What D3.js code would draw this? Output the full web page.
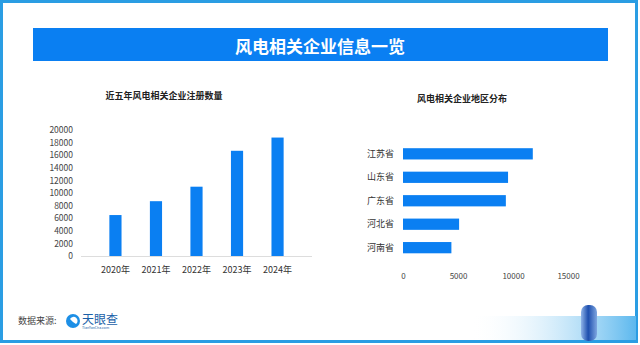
<!DOCTYPE html>
<html>
<head>
<meta charset="utf-8">
<script src="https://cdn.jsdelivr.net/npm/d3@7"></script>
<style>
  body { margin: 0; background: #fff; }
  text { font-family: "Noto Sans CJK SC", "Noto Sans", sans-serif; }
</style>
</head>
<body>
<div id="chart"></div>
<script>
// 近五年风电相关企业注册数量
const years = ['2020年', '2021年', '2022年', '2023年', '2024年']
const regCounts = [6500, 8700, 11000, 16700, 18800]
const yTicks = [0, 2000, 4000, 6000, 8000, 10000, 12000, 14000, 16000, 18000, 20000]

// 风电相关企业地区分布
const provinces = ['江苏省', '山东省', '广东省', '河北省', '河南省']
const provCounts = [11800, 9550, 9350, 5100, 4400]
const xTicks = [0, 5000, 10000, 15000]

const width = 640
const height = 345
const blue = '#0a7ff2'

const svg = d3.select('#chart')
  .append('svg')
  .attr('width', width)
  .attr('height', height)

const defs = svg.append('defs')

// outer frame
svg.append('rect')
  .attr('x', 1.5).attr('y', 1.5)
  .attr('width', 635).attr('height', 340)
  .attr('fill', '#fff')
  .attr('stroke', '#2a9de3')
  .attr('stroke-width', 3)

// decoration bottom right
const grad = defs.append('linearGradient')
  .attr('id', 'g1').attr('x1', 0).attr('x2', 1).attr('y1', 0).attr('y2', 0)
grad.append('stop').attr('offset', '0%').attr('stop-color', '#fff').attr('stop-opacity', 0)
grad.append('stop').attr('offset', '100%').attr('stop-color', '#5cb8ee')
svg.append('rect')
  .attr('x', 470).attr('y', 316).attr('width', 166).attr('height', 24)
  .attr('fill', 'url(#g1)')

const cyl = defs.append('linearGradient')
  .attr('id', 'g2').attr('x1', 0).attr('x2', 1).attr('y1', 0).attr('y2', 0)
cyl.append('stop').attr('offset', '0%').attr('stop-color', '#8fb4e8')
cyl.append('stop').attr('offset', '45%').attr('stop-color', '#1e4fae')
cyl.append('stop').attr('offset', '100%').attr('stop-color', '#7ea6e0')
svg.append('rect')
  .attr('x', 581).attr('y', 305).attr('width', 16).attr('height', 36).attr('rx', 7)
  .attr('fill', 'url(#g2)')

// title banner
svg.append('rect')
  .attr('x', 33).attr('y', 28)
  .attr('width', 575).attr('height', 33)
  .attr('fill', blue)
svg.append('text')
  .attr('x', 320).attr('y', 45)
  .attr('text-anchor', 'middle')
  .attr('dominant-baseline', 'central')
  .attr('fill', '#fff')
  .attr('font-size', 17)
  .attr('font-weight', 'bold')
  .text('风电相关企业信息一览')

// ---- left chart: vertical bars
const x = d3.scaleBand().domain(years).range([81, 312]).padding(0.7)
const y = d3.scaleLinear().domain([0, 20000]).range([256, 130])

svg.append('text')
  .attr('x', 164).attr('y', 95)
  .attr('text-anchor', 'middle').attr('dominant-baseline', 'central')
  .attr('font-size', 9).attr('font-weight', 'bold').attr('fill', '#222')
  .text('近五年风电相关企业注册数量')

const yAxis = svg.append('g')
  .attr('transform', 'translate(78,0)')
  .call(d3.axisLeft(y).tickValues(yTicks).tickSize(0).tickPadding(5).tickFormat(d3.format('d')))
yAxis.select('.domain').remove()
yAxis.selectAll('text').attr('font-size', 8.5).attr('fill', '#444')

svg.append('line')
  .attr('x1', 81).attr('x2', 312)
  .attr('y1', y(0) + 0.5).attr('y2', y(0) + 0.5)
  .attr('stroke', '#ddd')

svg.selectAll('.vbar')
  .data(regCounts)
  .enter()
  .append('rect')
  .attr('class', 'vbar')
  .attr('x', (d, i) => x(years[i]))
  .attr('y', d => y(d))
  .attr('width', x.bandwidth())
  .attr('height', d => y(0) - y(d))
  .attr('fill', blue)

const xAxis = svg.append('g')
  .attr('transform', `translate(0,${y(0)})`)
  .call(d3.axisBottom(x).tickSize(0).tickPadding(11))
xAxis.select('.domain').remove()
xAxis.selectAll('text').attr('font-size', 9).attr('fill', '#333')

// ---- right chart: horizontal bars
const hx = d3.scaleLinear().domain([0, 15000]).range([403, 568])
const hy = d3.scaleBand().domain(provinces).range([136, 265.5]).padding(0.52)

svg.append('text')
  .attr('x', 462).attr('y', 98)
  .attr('text-anchor', 'middle').attr('dominant-baseline', 'central')
  .attr('font-size', 9).attr('font-weight', 'bold').attr('fill', '#222')
  .text('风电相关企业地区分布')

svg.selectAll('.hbar')
  .data(provCounts)
  .enter()
  .append('rect')
  .attr('class', 'hbar')
  .attr('x', hx(0))
  .attr('y', (d, i) => hy(provinces[i]))
  .attr('width', d => hx(d) - hx(0))
  .attr('height', hy.bandwidth())
  .attr('fill', blue)

const catAxis = svg.append('g')
  .attr('transform', `translate(${hx(0)},0)`)
  .call(d3.axisLeft(hy).tickSize(0).tickPadding(9))
catAxis.select('.domain').remove()
catAxis.selectAll('text').attr('font-size', 9).attr('fill', '#333')

const valAxis = svg.append('g')
  .attr('transform', 'translate(0,270)')
  .call(d3.axisBottom(hx).tickValues(xTicks).tickSize(0).tickPadding(3).tickFormat(d3.format('d')))
valAxis.select('.domain').remove()
valAxis.selectAll('text').attr('font-size', 8).attr('fill', '#444')

// ---- footer
svg.append('text')
  .attr('x', 18).attr('y', 320)
  .attr('dominant-baseline', 'central')
  .attr('font-size', 9).attr('fill', '#444')
  .text('数据来源:')

const logo = svg.append('g').attr('transform', 'translate(73,321)')
logo.append('circle').attr('r', 7).attr('fill', '#1d8fe6')
logo.append('path')
  .attr('d', 'M-3,-2 A4,4 0 1 1 3,3 L0,1 Z')
  .attr('fill', '#fff')
svg.append('text')
  .attr('x', 82).attr('y', 318)
  .attr('dominant-baseline', 'central')
  .attr('font-size', 12).attr('fill', '#1a5fa8')
  .text('天眼查')
svg.append('text')
  .attr('x', 82).attr('y', 327.5)
  .attr('dominant-baseline', 'central')
  .attr('font-size', 3.5).attr('fill', '#1a5fa8')
  .text('TianYanCha.com')
</script>
</body>
</html>
